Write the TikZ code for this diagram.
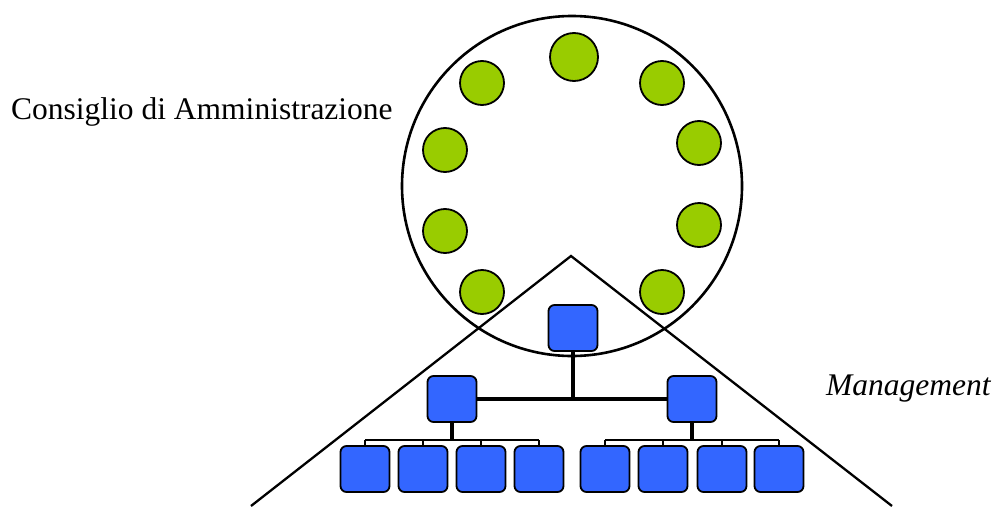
\documentclass[tikz,border=0pt]{standalone}
\usepackage{fontspec}
\setmainfont{Liberation Serif}
\usepackage{xcolor}
\usepackage{tikz}
\definecolor{boardgreen}{HTML}{99CC00}
\definecolor{mgmtblue}{HTML}{3366FF}
\tikzset{member/.style={circle,draw,fill=boardgreen,line width=1.8pt,inner sep=0pt,minimum size=44pt},
unit/.style={draw,fill=mgmtblue,rounded corners=6pt,line width=1.8pt,inner sep=0pt,minimum width=49pt,minimum height=46pt},
tie/.style={line width=4pt},
twig/.style={line width=2.8pt},
label/.style={inner sep=0pt,anchor=base west,font=\fontsize{31.5}{38}\selectfont}}

\begin{document}
\begin{tikzpicture}[x=1pt,y=-1pt]
\useasboundingbox (0,0) rectangle (993,506);
% board
\node[circle,draw,line width=2.6pt,minimum size=340pt,inner sep=0pt] (board) at (572,186) {};
\node[member,minimum size=48pt] (chair) at (574,57) {};
\foreach \name/\x/\y in {l1/482/83,l2/445/150,l3/445/231,l4/482/292,r1/662/83,r2/699/143,r3/699/225,r4/662/292}
\node[member] (\name) at (\x,\y) {};
\node[label] (boardtxt) at (11,119) {Consiglio di Amministrazione};
% management pyramid
\coordinate (apex) at (571,256);
\coordinate (footL) at (251,506);
\coordinate (footR) at (892,506);
\draw[line width=2.3pt] (footL) -- (apex) -- (footR);
\node[label] (mgmttxt) at (826,395) {\itshape Management};
% org chart
\node[unit] (ceo) at (573,328) {};
\node[unit] (midL) at (452,399) {};
\node[unit] (midR) at (692,399) {};
\foreach \i/\x in {1/365,2/423,3/481,4/539,5/605,6/663,7/722,8/779}
\node[unit] (b\i) at (\x,469) {};
\draw[tie] (ceo.south) -- (ceo.south |- midL.east);
\draw[tie] (midL.east) -- (midR.west);
\coordinate (jL) at ([yshift=-17pt]midL.south);
\coordinate (jR) at ([yshift=-17pt]midR.south);
\draw[tie] (midL.south) -- (jL);
\draw[tie] (midR.south) -- (jR);
\draw[twig] (jL -| b1.north) -- (jL -| b4.north);
\draw[twig] (jR -| b5.north) -- (jR -| b8.north);
\foreach \i in {1,...,4} \draw[twig] (b\i.north) -- (jL -| b\i.north);
\foreach \i in {5,...,8} \draw[twig] (b\i.north) -- (jR -| b\i.north);
\end{tikzpicture}
\end{document}
